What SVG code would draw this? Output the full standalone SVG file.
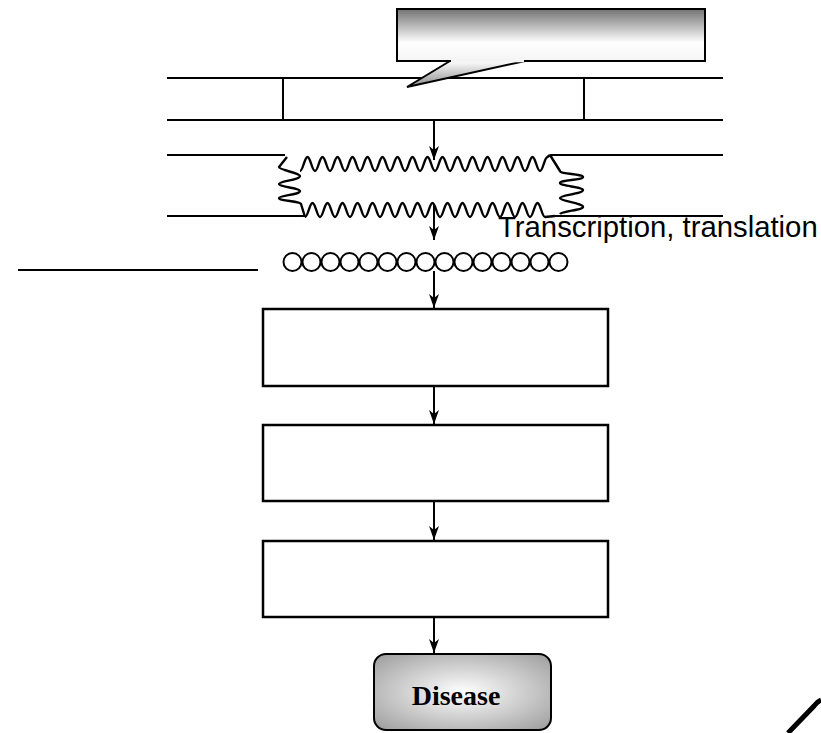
<svg xmlns="http://www.w3.org/2000/svg" width="821" height="733" viewBox="0 0 821 733">
  <style>
    .ln { stroke: #000; stroke-width: 2; fill: none; }
    .box { stroke: #000; stroke-width: 2.5; fill: #fff; }
    .wave { stroke: #000; stroke-width: 2.4; fill: none; stroke-linejoin: round; }
    .arrow { stroke: #000; stroke-width: 2; fill: none; marker-end: url(#head); }
    .bead { stroke: #000; stroke-width: 2; fill: #fff; }
    .label { font-family: "Liberation Sans", Arial, sans-serif; font-size: 29.3px; fill: #000; }
    .title { font-family: "Liberation Serif", "Times New Roman", serif; font-size: 28px; font-weight: bold; fill: #000; }
  </style>
  <defs>
    <marker id="head" viewBox="0 0 14 10" refX="14" refY="5" markerWidth="14" markerHeight="10" markerUnits="userSpaceOnUse" orient="auto">
      <path d="M0,0 L4,5 L0,10 L14,5 Z" fill="#000"/>
    </marker>
    <linearGradient id="calloutFill" x1="0" y1="0" x2="0" y2="1">
      <stop offset="0" stop-color="#737373"/>
      <stop offset="0.65" stop-color="#ffffff"/>
      <stop offset="1" stop-color="#f4f4f4"/>
    </linearGradient>
    <linearGradient id="tailFill" x1="0" y1="0" x2="0" y2="1">
      <stop offset="0" stop-color="#ffffff"/>
      <stop offset="1" stop-color="#8a8a8a"/>
    </linearGradient>
    <radialGradient id="diseaseFill" cx="0.5" cy="0.5" r="0.7">
      <stop offset="0" stop-color="#ffffff"/>
      <stop offset="1" stop-color="#9c9c9c"/>
    </radialGradient>
    <!-- one 15px period of the strand wave -->
    <path id="period" d="M0,14 C3,14 4.5,0 7.5,0 C10.5,0 12,14 15,14"/>
  </defs>

  <!-- intact double strand with gene segment -->
  <g id="gene">
    <line class="ln" x1="167" y1="78" x2="723" y2="78"/>
    <line class="ln" x1="167" y1="120" x2="723" y2="120"/>
    <line class="ln" x1="283" y1="78" x2="283" y2="120"/>
    <line class="ln" x1="584" y1="78" x2="584" y2="120"/>
  </g>

  <!-- speech callout over the gene -->
  <g id="callout">
    <rect x="397" y="9" width="308" height="52" fill="url(#calloutFill)" stroke="#000" stroke-width="2"/>
    <path d="M450,61 L407,87 L525,61 Z" fill="url(#tailFill)" stroke="#000" stroke-width="2" stroke-linejoin="miter"/>
    <line x1="451" y1="61" x2="524" y2="61" stroke="#f4f4f4" stroke-width="2.5"/>
  </g>

  <!-- opened (disrupted) strand -->
  <g id="opened">
    <line class="ln" x1="167" y1="155" x2="285" y2="155"/>
    <line class="ln" x1="550" y1="155" x2="723" y2="155"/>
    <line class="ln" x1="167" y1="216" x2="305" y2="216"/>
    <line class="ln" x1="555" y1="216" x2="723" y2="216"/>
    <!-- left loop edge -->
    <path class="wave" d="M287,157 L279,167 C279,170 300,173 300,176 C300,180 279,181 279,184 C279,187 300,188 300,191 C300,195 279,195 279,198 C279,201 300,201 301,204 L305,217"/>
    <!-- upper wavy strand: 16 periods from x=300, then a rise to the right strand -->
    <g class="wave" transform="translate(300,157)">
      <use href="#period" x="0"/><use href="#period" x="15"/><use href="#period" x="30"/><use href="#period" x="45"/>
      <use href="#period" x="60"/><use href="#period" x="75"/><use href="#period" x="90"/><use href="#period" x="105"/>
      <use href="#period" x="120"/><use href="#period" x="135"/><use href="#period" x="150"/><use href="#period" x="165"/>
      <use href="#period" x="180"/><use href="#period" x="195"/><use href="#period" x="210"/><use href="#period" x="225"/>
      <path d="M240,14 C243,14 244.5,0 247.5,0 L250,-2"/>
    </g>
    <!-- lower wavy strand -->
    <g class="wave" transform="translate(305,203)">
      <use href="#period" x="0"/><use href="#period" x="15"/><use href="#period" x="30"/><use href="#period" x="45"/>
      <use href="#period" x="60"/><use href="#period" x="75"/><use href="#period" x="90"/><use href="#period" x="105"/>
      <use href="#period" x="120"/><use href="#period" x="135"/><use href="#period" x="150"/><use href="#period" x="165"/>
      <use href="#period" x="180"/><use href="#period" x="195"/><use href="#period" x="210"/><use href="#period" x="225"/>
      <path d="M240,14 L250,13"/>
    </g>
    <!-- right loop edge -->
    <path class="wave" d="M550,155 L560,171 C560,174 583,174 583,177 C583,180 560,180 560,183 C560,186 583,187 583,190 C583,194 560,195 560,198 C560,201 583,203 583,207 C583,210 562,211 560,214"/>
  </g>

  <text class="label" x="498" y="237">Transcription, translation</text>

  <!-- product chain -->
  <g id="chain">
    <line class="ln" x1="18" y1="270" x2="258" y2="270"/>
    <circle class="bead" cx="292.5" cy="262" r="9"/>
    <circle class="bead" cx="311.5" cy="262" r="9"/>
    <circle class="bead" cx="330.5" cy="262" r="9"/>
    <circle class="bead" cx="349.5" cy="262" r="9"/>
    <circle class="bead" cx="368.5" cy="262" r="9"/>
    <circle class="bead" cx="387.5" cy="262" r="9"/>
    <circle class="bead" cx="406.5" cy="262" r="9"/>
    <circle class="bead" cx="425.5" cy="262" r="9"/>
    <circle class="bead" cx="444.5" cy="262" r="9"/>
    <circle class="bead" cx="463.5" cy="262" r="9"/>
    <circle class="bead" cx="482.5" cy="262" r="9"/>
    <circle class="bead" cx="501.5" cy="262" r="9"/>
    <circle class="bead" cx="520.5" cy="262" r="9"/>
    <circle class="bead" cx="539.5" cy="262" r="9"/>
    <circle class="bead" cx="558.5" cy="262" r="9"/>
  </g>

  <g id="step1"><rect class="box" x="263" y="309" width="345" height="77"/></g>
  <g id="step2"><rect class="box" x="263" y="425" width="345" height="76"/></g>
  <g id="step3"><rect class="box" x="263" y="541" width="345" height="76"/></g>

  <g id="disease">
    <rect x="374" y="654" width="177" height="76" rx="12" ry="12" fill="url(#diseaseFill)" stroke="#000" stroke-width="2"/>
    <text class="title" x="456" y="705" text-anchor="middle">Disease</text>
  </g>

  <!-- connectors -->
  <g id="connectors">
    <line class="arrow" x1="434" y1="121" x2="434" y2="160"/>
    <line class="arrow" x1="434" y1="204" x2="434" y2="240"/>
    <line class="arrow" x1="434" y1="271" x2="434" y2="308"/>
    <line class="arrow" x1="434" y1="387" x2="434" y2="424"/>
    <line class="arrow" x1="434" y1="502" x2="434" y2="540"/>
    <line class="arrow" x1="434" y1="618" x2="434" y2="653"/>
  </g>

  <!-- partial mark at the lower right edge -->
  <path d="M788,733 L814,706 Q818,701 821,700" fill="none" stroke="#000" stroke-width="5"/>
</svg>
